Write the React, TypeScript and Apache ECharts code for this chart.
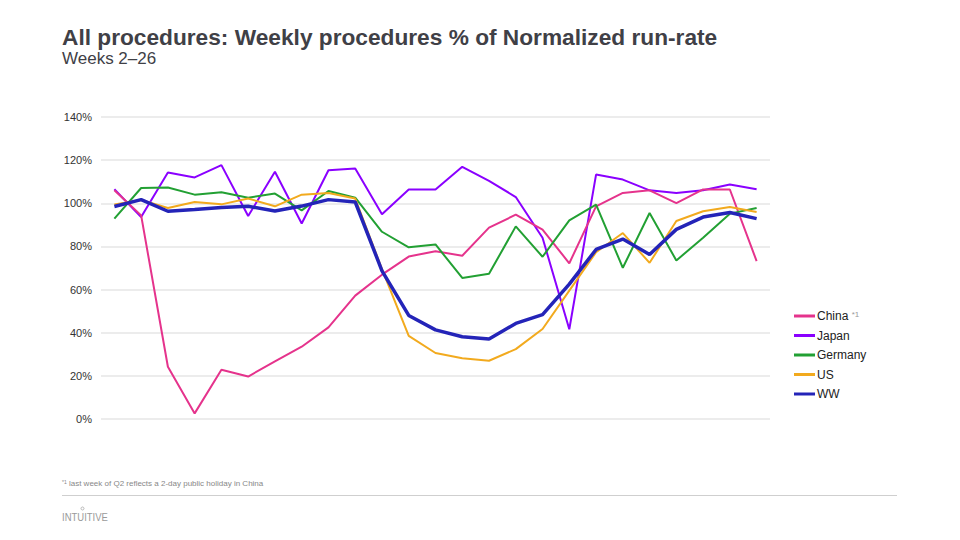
import React, { useEffect, useRef } from "react";
import * as echarts from "echarts";

const weeks = [
  "W2", "W3", "W4", "W5", "W6", "W7", "W8", "W9", "W10", "W11", "W12", "W13", "W14",
  "W15", "W16", "W17", "W18", "W19", "W20", "W21", "W22", "W23", "W24", "W25", "W26",
];
const china = [106.0, 94.4, 24.2, 2.6, 22.8, 19.7, 26.7, 33.5, 42.5, 57.2, 66.9, 75.3, 77.8, 75.7, 88.7, 94.7, 87.8, 72.2, 98.6, 104.8, 106.0, 100.1, 106.4, 106.4, 73.2];
const japan = [106.5, 93.6, 114.3, 112.0, 117.7, 94.1, 114.6, 90.6, 115.3, 116.1, 94.9, 106.4, 106.4, 116.9, 110.4, 102.9, 84.0, 41.6, 113.3, 111.0, 106.0, 104.8, 106.0, 108.7, 106.5];
const germany = [92.9, 107.1, 107.3, 104.0, 105.1, 102.6, 104.5, 96.7, 105.7, 102.6, 86.8, 79.6, 80.9, 65.4, 67.3, 89.3, 75.2, 92.1, 99.4, 70.1, 95.5, 73.5, 84.0, 95.2, 97.8];
const us = [99.5, 101.5, 97.8, 100.6, 99.5, 102.2, 98.6, 104.0, 104.8, 102.2, 69.5, 38.5, 30.6, 28.2, 27.0, 32.4, 41.7, 59.5, 77.3, 86.2, 72.4, 91.8, 96.3, 98.3, 96.0];
const ww = [98.5, 101.7, 96.3, 97.1, 98.0, 98.6, 96.4, 98.7, 101.7, 100.6, 68.7, 48.0, 41.3, 38.1, 37.1, 44.3, 48.4, 62.5, 78.6, 83.4, 76.3, 87.9, 93.6, 95.7, 92.9];
const yTicks = [0, 20, 40, 60, 80, 100, 120, 140];

const FONT = "Liberation Sans, Arial, sans-serif";

export default function App() {
  const ref = useRef<HTMLDivElement>(null);
  useEffect(() => {
    if (!ref.current) return;
    const chart = echarts.init(ref.current, null, { renderer: "svg" });
    const mk = (name: string, data: number[], color: string, width: number, z: number) => ({
      name,
      type: "line",
      data,
      symbol: "none",
      z,
      lineStyle: { color, width },
      itemStyle: { color },
    });
    chart.setOption({
      animation: false,
      textStyle: { fontFamily: FONT },
      grid: { left: 101, right: 190, top: 117, bottom: 121 },
      xAxis: {
        type: "category",
        data: weeks,
        boundaryGap: true,
        axisLine: { show: false },
        axisTick: { show: false },
        axisLabel: { show: false },
      },
      yAxis: {
        type: "value",
        min: yTicks[0],
        max: yTicks[yTicks.length - 1],
        interval: 20,
        axisLabel: { formatter: "{value}%", color: "#333", fontSize: 11, margin: 9, fontFamily: FONT },
        splitLine: { lineStyle: { color: "#e6e6e6", width: 1.5 } },
        axisLine: { show: false },
        axisTick: { show: false },
      },
      legend: {
        orient: "vertical",
        left: 789,
        top: 305,
        icon: "rect",
        itemWidth: 21,
        itemHeight: 3,
        itemGap: 7.5,
        data: ["China", "Japan", "Germany", "US", "WW"],
        formatter: (name: string) => (name === "China" ? "{a|China} {s|*1}" : name),
        textStyle: {
          color: "#222",
          fontSize: 12,
          fontFamily: FONT,
          padding: [0, 0, 0, -3],
          rich: {
            a: { color: "#222", fontSize: 12, fontFamily: FONT },
            s: { color: "#999", fontSize: 8, fontFamily: FONT, verticalAlign: "top", padding: [0, 0, 4, 0] },
          },
        },
      },
      graphic: [
        {
          type: "text",
          left: 62,
          top: 25,
          style: {
            text: "All procedures: Weekly procedures % of Normalized run-rate",
            fill: "#404046",
            font: `bold 22.7px ${FONT}`,
          },
        },
        {
          type: "text",
          left: 62,
          top: 50,
          style: { text: "Weeks 2–26", fill: "#404046", font: `17px ${FONT}` },
        },
        {
          type: "text",
          left: 62,
          top: 479,
          style: {
            text: "{s|*1} last week of Q2 reflects a 2-day public holiday in China",
            fill: "#888",
            font: `8px ${FONT}`,
            rich: { s: { fontSize: 5, fill: "#888", verticalAlign: "top" } },
          },
        },
        {
          type: "line",
          shape: { x1: 62, y1: 495.5, x2: 897, y2: 495.5 },
          style: { stroke: "#cfcfcf", lineWidth: 1 },
        },
        {
          type: "text",
          left: 62,
          top: 512,
          style: { text: "INTUITIVE", fill: "#9a9a9a", font: `10px ${FONT}` },
          scaleX: 0.95,
        },
        {
          type: "circle",
          shape: { cx: 82.5, cy: 508.5, r: 1.5 },
          style: { fill: "none", stroke: "#9a9a9a", lineWidth: 0.7 },
        },
      ],
      series: [
        mk("China", china, "#E5338C", 2, 3),
        mk("Japan", japan, "#8A00FF", 2, 2),
        mk("Germany", germany, "#22A033", 2, 4),
        mk("US", us, "#F2AA1E", 2, 5),
        mk("WW", ww, "#2424B8", 3.5, 6),
      ],
    });
    return () => chart.dispose();
  }, []);
  return <div ref={ref} style={{ width: 960, height: 540, position: "absolute", left: 0, top: 0 }} />;
}
